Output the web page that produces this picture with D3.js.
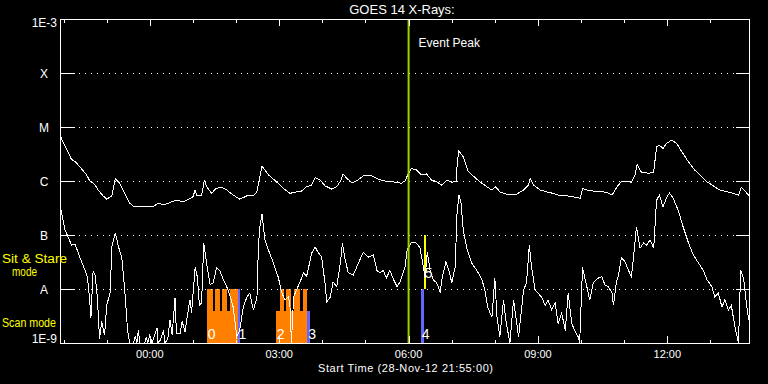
<!DOCTYPE html>
<html><head><meta charset="utf-8">
<script src="https://cdn.jsdelivr.net/npm/d3@7"></script>
<style>
html,body{margin:0;padding:0;background:#000;}
svg{display:block;background:#000;}
text{font-family:"Liberation Sans",Arial,sans-serif;fill:#fff;}
</style></head><body>
<svg id="chart" width="768" height="384"></svg>
<script>
// ---------- data ----------
const chartTitle = "GOES 14 X-Rays:";
const xAxisTitle = "Start Time (28-Nov-12 21:55:00)";
const timeStart = "21:55";
const timeEnd = "13:55";
const xTickLabels = ["00:00", "03:00", "06:00", "09:00", "12:00"];
const yTickValues = [1e-9, 1e-8, 1e-7, 1e-6, 1e-5, 1e-4, 1e-3];
const yTickLabels = ["1E-9", "A", "B", "C", "M", "X", "1E-3"];
const eventPeakTime = "06:00";
const eventPeakLabel = "Event Peak";
const modeLabelSit = ["Sit & Stare", "mode"];
const modeLabelScan = "Scan mode";

// GOES long channel (1-8 A)
const longTimes = ["21:55","22:00","22:07","22:11","22:16","22:23","22:32","22:37","22:41","22:44","22:48","22:55","23:00","23:07","23:12","23:18","23:25","23:32","23:37","23:44","23:56","00:05","00:12","00:19","00:28","00:37","00:47","00:54","01:00","01:03","01:05","01:12","01:16","01:19","01:26","01:32","01:40","01:47","01:56","02:05","02:15","02:24","02:29","02:33","02:36","02:45","02:56","03:06","03:15","03:24","03:31","03:38","03:45","03:50","03:57","04:04","04:13","04:20","04:26","04:29","04:34","04:41","04:48","04:57","05:06","05:13","05:18","05:25","05:34","05:43","05:50","05:55","06:00","06:04","06:11","06:18","06:25","06:32","06:39","06:46","06:53","07:00","07:06","07:08","07:10","07:16","07:23","07:32","07:39","07:49","07:56","08:01","08:07","08:16","08:30","08:40","08:47","08:49","08:54","09:03","09:12","09:21","09:31","09:40","09:49","09:59","10:02","10:08","10:17","10:26","10:36","10:43","10:50","10:56","11:03","11:10","11:15","11:18","11:24","11:34","11:41","11:45","11:49","11:54","11:59","12:06","12:13","12:20","12:29","12:38","12:48","12:55","13:04","13:13","13:23","13:32","13:39","13:43","13:49","13:54"];
const longFlux = [7.1e-6,5.0e-6,3.3e-6,2.5e-6,2.3e-6,1.8e-6,1.3e-6,9.7e-7,9.1e-7,8.4e-7,6.8e-7,5.3e-7,4.6e-7,5.3e-7,1.1e-6,9.1e-7,5.9e-7,3.9e-7,3.4e-7,3.3e-7,3.4e-7,3.4e-7,3.9e-7,3.6e-7,4.0e-7,4.4e-7,4.1e-7,4.6e-7,5.1e-7,6.8e-7,5.5e-7,5.5e-7,1.04e-6,7.8e-7,5.9e-7,7.3e-7,7.6e-7,6.8e-7,5.5e-7,4.6e-7,5.3e-7,5.3e-7,6.3e-7,1.2e-6,1.9e-6,1.3e-6,9.7e-7,7.3e-7,5.9e-7,6.3e-7,6.5e-7,7.8e-7,8.4e-7,1.15e-6,1.04e-6,8.1e-7,7.1e-7,7.8e-7,1.04e-6,1.35e-6,1.12e-6,9.3e-7,1.01e-6,1.24e-6,1.29e-6,1.17e-6,1.07e-6,1.01e-6,9.7e-7,9.5e-7,9.1e-7,1.0e-6,1.4e-6,1.7e-6,1.6e-6,1.3e-6,1.35e-6,1.04e-6,9.7e-7,8.4e-7,1.04e-6,9.5e-7,9.7e-7,2.4e-6,3.6e-6,2.8e-6,1.5e-6,1.17e-6,9.7e-7,7.8e-7,6.8e-7,7.8e-7,6.3e-7,5.7e-7,5.7e-7,6.8e-7,8.4e-7,1.12e-6,8.4e-7,6.8e-7,6.3e-7,5.9e-7,5.3e-7,5.3e-7,5.1e-7,4.8e-7,7.3e-7,6.8e-7,6.5e-7,6.5e-7,6.1e-7,5.5e-7,7.8e-7,9.7e-7,1.0e-6,9.5e-7,1.29e-6,2.0e-6,1.45e-6,1.39e-6,1.45e-6,4.3e-6,4.6e-6,4.0e-6,5.0e-6,5.7e-6,5.0e-6,3.5e-6,2.3e-6,1.6e-6,1.2e-6,9.7e-7,8.1e-7,6.8e-7,6.3e-7,5.9e-7,5.5e-7,7.6e-7,6.3e-7,5.3e-7];

// GOES short channel (0.5-4 A)
const shortTimes = ["21:55","22:00","22:02","22:07","22:11","22:16","22:20","22:25","22:30","22:33","22:36","22:38","22:41","22:44","22:47","22:50","22:53","22:57","23:00","23:05","23:07","23:12","23:16","23:21","23:25","23:29","23:32","23:37","23:40","23:42","23:44","23:46","23:53","23:55","23:57","00:00","00:03","00:10","00:11","00:14","00:19","00:21","00:25","00:28","00:31","00:35","00:37","00:42","00:45","00:49","00:54","00:56","00:58","01:03","01:06","01:09","01:12","01:15","01:19","01:24","01:28","01:33","01:38","01:42","01:47","01:52","01:56","02:01","02:05","02:10","02:15","02:19","02:24","02:29","02:31","02:33","02:36","02:40","02:45","02:52","02:59","03:03","03:08","03:13","03:15","03:17","03:20","03:24","03:29","03:34","03:38","03:40","03:45","03:50","03:54","03:59","04:04","04:06","04:11","04:15","04:20","04:25","04:28","04:31","04:36","04:43","04:50","04:57","05:04","05:11","05:16","05:20","05:25","05:29","05:34","05:39","05:44","05:48","05:53","05:55","05:58","06:04","06:11","06:16","06:20","06:23","06:26","06:30","06:34","06:39","06:44","06:47","06:52","06:57","07:00","07:05","07:07","07:10","07:13","07:16","07:21","07:28","07:35","07:42","07:46","07:50","07:56","08:00","08:03","08:07","08:12","08:16","08:21","08:26","08:33","08:40","08:44","08:48","08:51","08:56","09:00","09:05","09:10","09:14","09:19","09:24","09:28","09:33","09:38","09:42","09:47","09:51","09:56","09:58","10:02","10:08","10:12","10:17","10:24","10:29","10:33","10:38","10:43","10:45","10:49","10:52","10:56","11:01","11:06","11:10","11:13","11:17","11:22","11:27","11:31","11:36","11:41","11:45","11:49","11:54","11:59","12:03","12:08","12:15","12:22","12:29","12:36","12:45","12:50","12:55","13:02","13:06","13:11","13:16","13:20","13:25","13:29","13:34","13:39","13:42","13:46","13:50","13:53","13:55"];
const shortFlux = [3.6e-7,1.7e-7,1.24e-7,8.7e-8,6.5e-8,6.8e-8,4.8e-8,3.2e-8,2.2e-8,1.7e-8,7.1e-9,2.9e-9,2.1e-8,1.8e-8,6.8e-9,1.2e-9,2.5e-9,1.4e-9,5.0e-9,8.8e-9,6.0e-8,1.09e-7,6.3e-8,3.8e-8,1.0e-8,1.7e-9,1e-9,1e-9,1.35e-9,1e-9,1.7e-9,1e-9,1e-9,1.3e-9,1e-9,1.4e-9,1e-9,1.9e-9,1e-9,1.1e-9,1.7e-9,1e-9,1.2e-9,2.7e-9,1.4e-9,6.8e-9,1.5e-9,1.5e-9,2.5e-9,1.6e-9,4.6e-9,6.3e-9,3.6e-9,2.5e-8,1.7e-8,5.0e-9,5.5e-9,7.1e-8,3.0e-8,1.2e-8,1.3e-8,2.5e-8,2.1e-8,1.5e-8,1.1e-8,7.1e-9,4.6e-9,1.3e-9,1.7e-9,4.6e-9,7.1e-9,8.4e-9,4.1e-9,6.8e-9,6.0e-8,1.41e-7,2.45e-7,8.1e-8,5.3e-8,3.0e-8,1.6e-8,8.8e-9,6.3e-9,7.1e-9,4.6e-9,1.0e-9,7.1e-9,9.6e-9,1.35e-8,2.0e-8,1.7e-8,2.2e-8,4.6e-8,6.0e-8,4.8e-8,3.9e-8,1.2e-8,5.7e-9,7.1e-9,1.35e-8,1.1e-8,3.0e-8,7.1e-8,3.9e-8,2.0e-8,1.8e-8,3.0e-8,4.8e-8,3.9e-8,4.3e-8,2.2e-8,2.0e-8,2.2e-8,1.6e-8,2.2e-8,1.5e-8,1.1e-8,1.35e-8,2.1e-8,2.5e-8,5.3e-8,7.4e-8,7.1e-8,5.7e-8,2.8e-8,1.6e-8,4.8e-8,2.2e-8,1.5e-8,1.3e-8,8.8e-9,1.7e-8,3.2e-8,2.0e-8,1.3e-8,2.6e-8,2.15e-7,5.5e-7,3.9e-7,1.24e-7,5.7e-8,3.0e-8,2.2e-8,1.5e-8,9.6e-9,4.6e-9,3.0e-9,1.6e-8,3.0e-9,1.3e-9,6.3e-9,2.3e-9,1.0e-9,6.3e-9,1.3e-9,9.6e-9,1.3e-8,6.5e-8,2.6e-8,9.6e-9,8.4e-9,7.1e-9,5.0e-9,6.3e-9,4.1e-9,5.5e-9,2.3e-9,3.6e-9,1.7e-9,8.4e-9,2.3e-9,1.7e-9,1.3e-9,1.0e-9,2.5e-8,1.1e-8,6.3e-9,1.3e-8,1.6e-8,1.7e-8,1.2e-8,1.1e-8,8.4e-9,5.0e-9,1.3e-8,1.8e-8,3.8e-8,3.2e-8,2.2e-8,1.7e-8,3.9e-8,1.41e-7,5.7e-8,7.1e-8,6.5e-8,8.1e-8,5.7e-8,4.4e-7,5.5e-7,3.3e-7,5.0e-7,6.0e-7,4.8e-7,2.9e-7,1.41e-7,7.4e-8,4.3e-8,2.8e-8,2.2e-8,1.5e-8,1.1e-8,7.1e-9,8.4e-9,4.6e-9,6.3e-9,4.1e-9,5.0e-9,2.0e-9,1.0e-9,2.2e-8,1.6e-8,5.5e-9,2.7e-9,5.5e-9];

// Observations (numbered) and their raster segments
const obsLabels = ["0", "1", "2", "3", "4", "5"];
const obsStart = ["01:19", "02:02", "02:55", "03:39", "06:17", "06:21"];
const obsMode = ["scan", "scan", "scan", "scan", "scan", "sit"];
const segStart = ["01:19","01:28","01:31","01:38","01:41","01:47","01:52","02:02","02:55","03:01","03:07","03:09","03:17","03:21","03:29","03:33","03:39","06:17","06:21"];
const segEnd   = ["01:28","01:31","01:38","01:41","01:47","01:52","02:02","02:06","03:01","03:07","03:09","03:17","03:21","03:29","03:33","03:39","03:43","06:21","06:24"];
const segLevel = [1, 0.6, 1, 0.6, 1, 0.6, 1, 1, 0.6, 1, 0.6, 1, 0.6, 1, 0.6, 1, 0.6, 1, 1];
const segObs   = [0, 0, 0, 0, 0, 0, 0, 1, 2, 2, 2, 2, 2, 2, 2, 2, 3, 4, 5];
const obsColor = ["#ff8000", "#6464ff", "#ff8000", "#6464ff", "#6464ff", "#ffff00"];

// ---------- helpers ----------
function toDate(s) {
  const [h, m] = s.split(":").map(Number);
  return new Date(2012, 10, h >= 21 ? 28 : 29, h, m);
}

// ---------- layout ----------
const L = 60, R = 750, T = 19, B = 343;
const svg = d3.select("#chart");

const x = d3.scaleTime().domain([toDate(timeStart), toDate(timeEnd)]).range([L, R]);
const y = d3.scaleLog().domain([1e-9, 1e-3]).range([B, T]).clamp(true);
const modeY = d3.scaleLinear().domain([0, 2]).range([B, y(1e-7)]);

// mode bars
const segs = segStart.map((s, i) => ({
  s: toDate(s), e: toDate(segEnd[i]), lev: segLevel[i], obs: segObs[i]
}));
svg.append("g").selectAll("rect").data(segs).join("rect")
  .attr("x", d => x(d.s))
  .attr("width", d => Math.max(1, x(d.e) - x(d.s)))
  .attr("y", d => obsMode[d.obs] === "sit" ? modeY(1 + d.lev) : modeY(d.lev))
  .attr("height", d => obsMode[d.obs] === "sit" ? modeY(1) - modeY(1 + d.lev) : modeY(0) - modeY(d.lev))
  .attr("fill", d => obsColor[d.obs])
  .attr("shape-rendering", "crispEdges");

// grid: dotted decade lines and side ticks
const inner = yTickValues.slice(1, -1);
const grid = svg.append("g").attr("stroke", "#fff").attr("shape-rendering", "crispEdges");
grid.selectAll("line.dot").data(inner).join("line")
  .attr("x1", L + 19).attr("x2", R - 14)
  .attr("y1", d => Math.round(y(d)) + 0.5).attr("y2", d => Math.round(y(d)) + 0.5)
  .attr("stroke-dasharray", "1,5");
grid.selectAll("line.lt").data(inner).join("line")
  .attr("x1", L).attr("x2", L + 15)
  .attr("y1", d => Math.round(y(d)) + 0.5).attr("y2", d => Math.round(y(d)) + 0.5);
grid.selectAll("line.rt").data(inner).join("line")
  .attr("x1", R - 14).attr("x2", R)
  .attr("y1", d => Math.round(y(d)) + 0.5).attr("y2", d => Math.round(y(d)) + 0.5);

// curves
const line = d3.line().x(d => x(d[0])).y(d => y(d[1]));
const longData = longTimes.map((t, i) => [toDate(t), longFlux[i]]);
const shortData = shortTimes.map((t, i) => [toDate(t), shortFlux[i]]);
[longData, shortData].forEach(data => {
  svg.append("path").datum(data).attr("d", line)
    .attr("fill", "none").attr("stroke", "#fff").attr("stroke-width", 1)
    .attr("shape-rendering", "crispEdges");
});

// observation numbers
svg.append("g").selectAll("text").data(obsLabels).join("text")
  .attr("x", (d, i) => x(toDate(obsStart[i])) + 1)
  .attr("y", (d, i) => obsMode[i] === "sit" ? modeY(1) - 11 : modeY(0) - 4.5)
  .attr("font-size", 14)
  .text(d => d);

// event peak
const xp = x(toDate(eventPeakTime));
svg.append("line").attr("x1", xp).attr("x2", xp).attr("y1", T).attr("y2", B)
  .attr("stroke", "#a0d000").attr("stroke-width", 2);
svg.append("text").attr("x", xp + 10).attr("y", 47).attr("font-size", 12).text(eventPeakLabel);

// frame
svg.append("rect").attr("x", L + 0.5).attr("y", T + 0.5).attr("width", R - L - 1).attr("height", B - T)
  .attr("fill", "none").attr("stroke", "#fff").attr("shape-rendering", "crispEdges");

// hour ticks (top and bottom)
const hours = d3.timeHour.range(x.domain()[0], x.domain()[1]);
const tk = svg.append("g").attr("stroke", "#fff").attr("shape-rendering", "crispEdges");
tk.selectAll("line.b").data(hours).join("line")
  .attr("x1", d => Math.round(x(d)) + 0.5).attr("x2", d => Math.round(x(d)) + 0.5)
  .attr("y1", B).attr("y2", d => B - (d.getHours() % 3 === 0 ? 7 : 3));
tk.selectAll("line.t").data(hours).join("line")
  .attr("x1", d => Math.round(x(d)) + 0.5).attr("x2", d => Math.round(x(d)) + 0.5)
  .attr("y1", T).attr("y2", d => T + (d.getHours() % 3 === 0 ? 7 : 4));

// x labels
svg.append("g").selectAll("text").data(xTickLabels).join("text")
  .attr("x", d => x(toDate(d)))
  .attr("y", 358).attr("text-anchor", "middle").attr("font-size", 11)
  .text(d => d);
svg.append("text").attr("x", 318).attr("y", 372)
  .attr("font-size", 11).attr("textLength", 175).attr("lengthAdjust", "spacing")
  .text(xAxisTitle);

// y labels
svg.append("g").selectAll("text").data(yTickValues).join("text")
  .attr("x", (d, i) => (i === 0 || i === yTickValues.length - 1) ? 57 : 44)
  .attr("y", (d, i) => i === 0 ? y(d) : (i === yTickValues.length - 1 ? y(d) + 8 : y(d) + 4.5))
  .attr("text-anchor", (d, i) => (i === 0 || i === yTickValues.length - 1) ? "end" : "middle")
  .attr("font-size", 12)
  .text((d, i) => yTickLabels[i]);

// title
svg.append("text").attr("x", 402).attr("y", 14).attr("text-anchor", "middle")
  .attr("font-size", 13).text(chartTitle);

// mode labels
const ml = svg.append("g").attr("font-size", 12.5);
ml.append("text").attr("x", 2).attr("y", 263).style("fill", "#ffff00")
  .attr("textLength", 65).attr("lengthAdjust", "spacingAndGlyphs").text(modeLabelSit[0]);
ml.append("text").attr("x", 12).attr("y", 276).style("fill", "#ffff00")
  .attr("textLength", 25).attr("lengthAdjust", "spacingAndGlyphs").text(modeLabelSit[1]);
ml.append("text").attr("x", 2).attr("y", 327).style("fill", "#ffff00")
  .attr("textLength", 54).attr("lengthAdjust", "spacingAndGlyphs").text(modeLabelScan);
</script>
</body></html>
